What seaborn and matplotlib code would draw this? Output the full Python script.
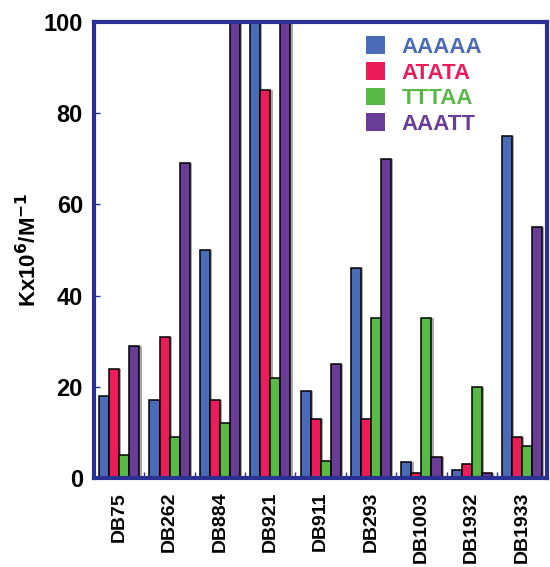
import matplotlib
matplotlib.use("Agg")
import matplotlib.pyplot as plt
import matplotlib.patheffects as pe
import matplotlib.transforms as mtransforms
import numpy as np
import pandas as pd
import seaborn as sns

compounds = ["DB75", "DB262", "DB884", "DB921", "DB911", "DB293", "DB1003", "DB1932", "DB1933"]
sequences = ["AAAAA", "ATATA", "TTTAA", "AAATT"]
k_aaaaa = [18, 17, 50, 100, 19, 46, 3.5, 1.8, 75]
k_atata = [24, 31, 17, 85, 13, 13, 1.2, 3, 9]
k_tttaa = [5, 9, 12, 22, 3.8, 35, 35, 20, 7]
k_aaatt = [29, 69, 100, 100, 25, 70, 4.7, 1.0, 55]
y_ticks = [0, 20, 40, 60, 80, 100]

palette = ["#4a6cb8", "#ec1c5b", "#58b947", "#693c98"]
navy = "#2b3192"

df = pd.DataFrame({
    "compound": compounds * 4,
    "sequence": np.repeat(sequences, len(compounds)),
    "K": k_aaaaa + k_atata + k_tttaa + k_aaatt,
})

sns.set_theme(style="white", rc={"text.color": "black", "axes.labelcolor": "black",
                                 "xtick.color": "black", "ytick.color": "black"})
plt.rcParams["font.family"] = ["Liberation Sans", "DejaVu Sans"]

fig = plt.figure(figsize=(5.5, 5.67), dpi=100)
ax = fig.add_axes([0.171, 0.157, 0.824, 0.804])

sns.barplot(data=df, x="compound", y="K", hue="sequence", order=compounds,
            hue_order=sequences, palette=palette, width=0.8, saturation=1,
            edgecolor="black", linewidth=1.1, ax=ax, legend=True)

for bar in ax.patches:
    bar.set_path_effects([
        pe.SimplePatchShadow(offset=(1.6, 0), shadow_rgbFace="#a8a8a8", alpha=1.0),
        pe.Normal(),
    ])

ax.set_xlim(-0.5, len(compounds) - 0.5)
ax.set_ylim(0, 100)
ax.set_yticks(y_ticks)
ax.set_yticklabels([str(t) for t in y_ticks], fontsize=17, fontweight="bold", color="black")
ax.set_xticks(range(len(compounds)))
ax.set_xticklabels(compounds, rotation=90, fontsize=14, fontweight="bold",
                   va="top", ha="center", color="black")
offset = mtransforms.ScaledTranslation(-9 / 72, 0, fig.dpi_scale_trans)
for lbl in ax.get_xticklabels():
    lbl.set_transform(lbl.get_transform() + offset)

ax.set_xticks(np.arange(len(compounds) - 1) + 0.5, minor=True)
ax.tick_params(axis="x", which="major", length=0, pad=10)
ax.tick_params(axis="x", which="minor", direction="in", length=4, width=1, color=navy, bottom=True)
ax.tick_params(axis="y", which="major", direction="in", length=4, width=1, color=navy, left=True, pad=8)

ax.set_xlabel("")
ax.set_ylabel(r"Kx10$^{\mathbf{6}}$/M$^{\mathbf{-1}}$", fontsize=16, fontweight="bold",
              labelpad=2, color="black")

for spine in ax.spines.values():
    spine.set_color(navy)
    spine.set_linewidth(3)
    spine.set_visible(True)

leg = ax.legend(loc="upper right", bbox_to_anchor=(0.876, 0.988), borderaxespad=0,
                frameon=False, handlelength=0.85, handleheight=0.85, handletextpad=0.75,
                labelspacing=0.18, prop={"weight": "bold", "size": 16})
for txt, col in zip(leg.get_texts(), palette):
    txt.set_color(col)
for h in leg.legend_handles:
    h.set_edgecolor("none")
    h.set_path_effects([])

fig.savefig("out.png", dpi=100)
